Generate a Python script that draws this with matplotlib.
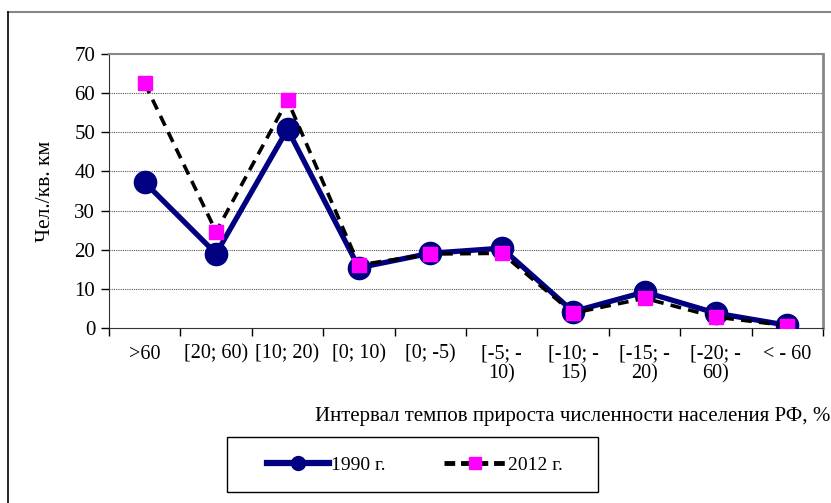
import matplotlib.pyplot as plt
from matplotlib.lines import Line2D
from matplotlib.patches import Rectangle

plt.rcParams['font.family'] = ['Liberation Serif', 'DejaVu Serif']

categories = ['>60', '[20; 60)', '[10; 20)', '[0; 10)', '[0; -5)',
              '[-5; -\n10)', '[-10; -\n15)', '[-15; -\n20)', '[-20; -\n60)', '< - 60']
v1990 = [37.2, 19.0, 50.8, 15.4, 19.1, 20.4, 4.2, 9.2, 3.8, 0.7]
v2012 = [62.5, 24.6, 58.2, 16.1, 18.9, 19.1, 3.8, 7.6, 2.8, 0.6]

fig = plt.figure(figsize=(8.31, 5.03), dpi=100)
ax = fig.add_axes([0.1312, 0.3479, 0.8592, 0.5447])

x = list(range(len(categories)))
ax.plot(x, v1990, color='#000080', lw=3.8, marker='o', ms=16,
        markerfacecolor='#000080', markeredgecolor='#000080', label='1990 г.', zorder=3)
ax.plot(x, v2012, color='black', lw=2.6, ls=(0, (3, 2)), marker='s', ms=10,
        markerfacecolor='#ff00ff', markeredgecolor='#ff00ff', label='2012 г.', zorder=4)

ax.set_xlim(-0.5, len(categories) - 0.5)
ax.set_ylim(0, 70)
ax.set_yticks(range(0, 71, 10))
ax.set_xticks([i - 0.5 for i in range(len(categories) + 1)])
ax.set_xticklabels([])
ax.set_xticks(x, minor=True)
ax.set_xticklabels(categories, minor=True, fontsize=14.5, va='top', linespacing=1.05)
ax.tick_params(axis='x', which='minor', length=0, pad=12)
ax.tick_params(axis='x', which='major', length=6, width=1, direction='out')
ax.tick_params(axis='y', length=6, width=1, direction='out', labelsize=15, pad=4)

for yv in range(10, 70, 10):
    ax.axhline(yv, color='#555555', lw=0.8, ls=(0, (1, 1)), zorder=1)

ax.spines['left'].set_color('#333333')
ax.spines['bottom'].set_color('#333333')
ax.spines['top'].set_color('#888888')
ax.spines['right'].set_color('#888888')
ax.spines['top'].set_linewidth(1.5)
ax.spines['right'].set_linewidth(2)

ax.set_ylabel('Чел./кв. км', fontsize=15.5, labelpad=14)
fig.text(0.999, 1 - 417 / 503, 'Интервал темпов прироста численности населения РФ, %',
         ha='right', va='center', fontsize=15)

handles = [Line2D([], [], color='#000080', lw=4.5, marker='o', ms=10,
                  markerfacecolor='#000080', markeredgecolor='#000080'),
           Line2D([], [], color='black', lw=3.5, ls=(0, (2.2, 1.2)), marker='s', ms=9,
                  markerfacecolor='#ff00ff', markeredgecolor='#ff00ff')]
leg = fig.legend(handles, ['1990 г.', '2012 г.'], loc='center',
                 bbox_to_anchor=(415 / 831, 1 - 465 / 503), ncol=2, fontsize=14,
                 frameon=False, handlelength=3.2, columnspacing=3.0,
                 borderaxespad=0, handletextpad=0.1)

# legend box
fig.add_artist(Rectangle((227 / 831, 1 - 492 / 503), 371 / 831, 55 / 503,
                         transform=fig.transFigure, fill=False, edgecolor='black', lw=1))

# outer frame of the chart area
fig.add_artist(Line2D([8 / 831, 1], [1 - 12 / 503, 1 - 12 / 503], color='#888888', lw=1.5,
                      transform=fig.transFigure))
fig.add_artist(Line2D([8 / 831, 8 / 831], [0, 1 - 12 / 503], color='black', lw=1.2,
                      transform=fig.transFigure))

fig.savefig('out.png', dpi=100)
